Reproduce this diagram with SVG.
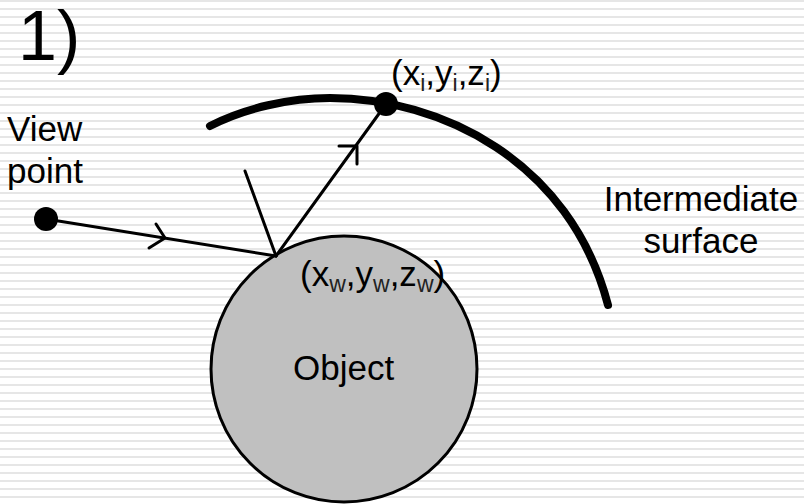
<svg xmlns="http://www.w3.org/2000/svg" width="804" height="504" viewBox="0 0 804 504">
<style>
text{font-family:"Liberation Sans",Arial,sans-serif;fill:#000}
.l{font-size:35px}
.s{font-size:23px;fill:#222}
.t{fill:none;stroke:#000;stroke-width:3;stroke-linecap:round;stroke-linejoin:round}
</style>
<defs>
<pattern id="bg" width="8" height="8" patternUnits="userSpaceOnUse">
<rect width="8" height="8" fill="#fff"/>
<rect y="0" width="8" height="2" fill="#e6e6e6"/>
</pattern>
</defs>
<rect width="804" height="504" fill="url(#bg)"/>
<text id="title" x="18" y="60" style="font-size:70px">1)</text>
<g id="object"><circle cx="344" cy="369" r="133" fill="#c0c0c0" stroke="#000" stroke-width="3"/>
<text class="l" x="293" y="380">Object</text></g>
<g id="connectors">
<path class="t" d="M46 219 L276 256"/>
<path class="t" d="M156 224 L165 238 L149 248"/>
<path class="t" d="M276 256 L245 171"/>
<path class="t" d="M276 256 L386 104"/>
<path class="t" d="M339 146 L357 146 L357 164"/>
</g>
<g id="surface"><path d="M210 126 C245 108 290 98 330 98 C440 98 570 160 608 305" fill="none" stroke="#000" stroke-width="8" stroke-linecap="round"/></g>
<g id="viewpoint"><circle cx="46" cy="219" r="12" fill="#000"/>
<text class="l" x="7" y="141">View</text><text class="l" x="7" y="183">point</text></g>
<g id="hit"><circle cx="386" cy="104" r="12" fill="#000"/>
<text class="l" x="391" y="85">(x<tspan class="s" dy="6">i</tspan><tspan dy="-6">,y</tspan><tspan class="s" dy="6">i</tspan><tspan dy="-6">,z</tspan><tspan class="s" dy="6">i</tspan><tspan dy="-6">)</tspan></text></g>
<g id="point-w"><text class="l" x="300" y="286">(x<tspan class="s" dy="6">w</tspan><tspan dy="-6">,y</tspan><tspan class="s" dy="6">w</tspan><tspan dy="-6">,z</tspan><tspan class="s" dy="6">w</tspan><tspan dy="-6">)</tspan></text></g>
<g id="label-surface"><text class="l" x="701" y="211" text-anchor="middle">Intermediate</text><text class="l" x="701" y="253" text-anchor="middle">surface</text></g>
</svg>
